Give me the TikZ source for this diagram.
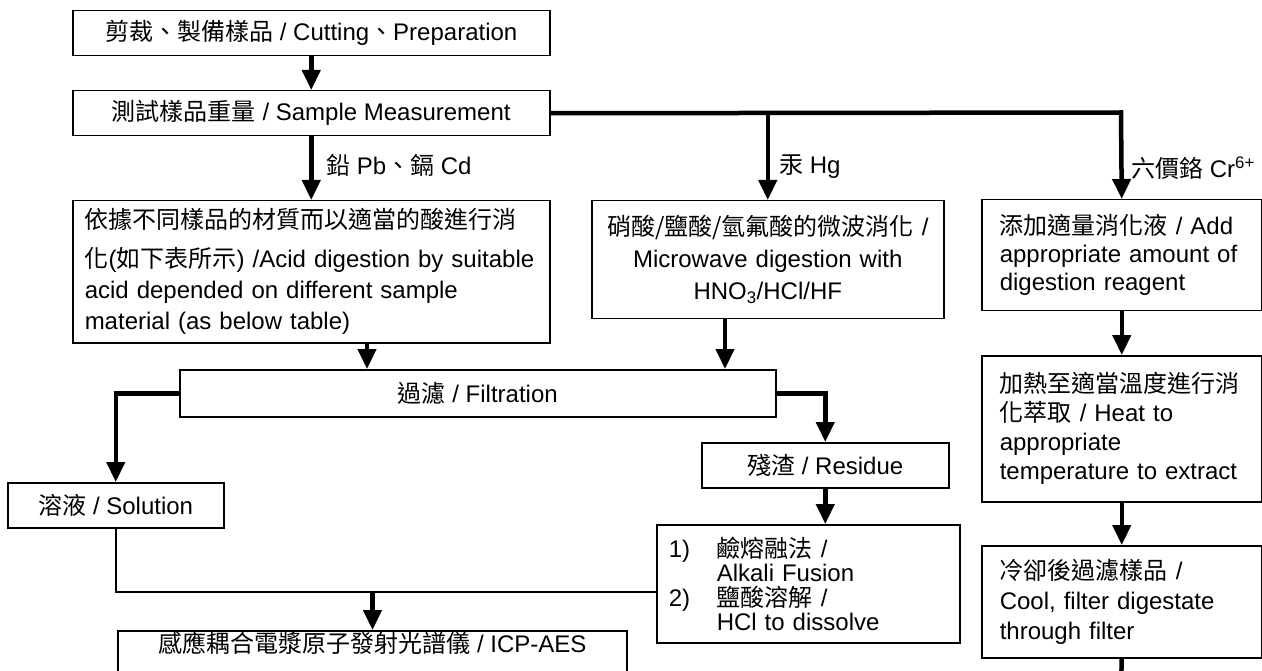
\documentclass[tikz,border=0pt]{standalone}
\usepackage{fontspec}
\setmainfont{Liberation Sans}
\newfontfamily\cjk{Noto Sans CJK TC}
\usetikzlibrary{arrows.meta}
\newcommand{\zh}[1]{{\cjk #1}}
\begin{document}
\begin{tikzpicture}[x=1pt,y=-1pt,
  box/.style={draw, line width=1.5pt, anchor=north west, inner ysep=0pt, font=\fontsize{24}{28}\selectfont},
  lbl/.style={anchor=west, inner sep=0pt, font=\fontsize{24}{28}\selectfont},
  arr/.style={line width=4.5pt, -{Triangle[length=20pt,width=18pt]}},
  conn/.style={line width=2pt},
]
\clip (0,0) rectangle (1262,671);
\fill[white] (0,0) rectangle (1262,671);

% boxes
\node[box, minimum width=477pt, minimum height=45pt] (cut) at (72,10) {\zh{剪裁、製備樣品} / Cutting\zh{、}Preparation};
\node[box, minimum width=477pt, minimum height=45pt] (meas) at (72,90) {\zh{測試樣品重量} / Sample Measurement};
\node[box, minimum width=477pt, minimum height=142pt, text width=453pt, inner xsep=12pt, align=left, font=\fontsize{24}{31}\selectfont] (pb) at (72,200)
  {\zh{依據不同樣品的材質而以適當的酸進行消}\\[8pt] \zh{化}(\zh{如下表所示}) /Acid digestion by suitable\\ acid depended on different sample\\ material (as below table)};
\node[box, minimum width=352pt, minimum height=118pt, text width=336pt, inner xsep=8pt, align=center, font=\fontsize{24}{32}\selectfont] (hg) at (591,200)
  {\zh{硝酸/鹽酸/氫氟酸的微波消化} /\\ Microwave digestion with\\ HNO\textsubscript{3}/HCl/HF};
\node[box, minimum width=280pt, minimum height=111pt, text width=244pt, inner xsep=18pt, align=left, font=\fontsize{24}{28}\selectfont] (cr1) at (981,199)
  {\zh{添加適量消化液} / Add\\ appropriate amount of\\ digestion reagent};
\node[box, minimum width=280pt, minimum height=146pt, text width=244pt, inner xsep=18pt, align=left, font=\fontsize{24}{29}\selectfont] (cr2) at (981,355)
  {\zh{加熱至適當溫度進行消}\\ \zh{化萃取} / Heat to\\ appropriate\\ temperature to extract};
\node[box, minimum width=280pt, minimum height=112pt, text width=244pt, inner xsep=18pt, align=left, font=\fontsize{24}{30}\selectfont] (cr3) at (981,545)
  {\zh{冷卻後過濾樣品} /\\ Cool, filter digestate\\ through filter};
\node[box, minimum width=596pt, minimum height=47pt] (filt) at (179,369) {\zh{過濾} / Filtration};
\node[box, minimum width=216pt, minimum height=45pt] (sol) at (7,482) {\zh{溶液} / Solution};
\node[box, minimum width=247pt, minimum height=45pt] (res) at (701,442) {\zh{殘渣} / Residue};
\node[box, minimum width=303pt, minimum height=118pt, text width=279pt, inner xsep=12pt, align=left, font=\fontsize{24}{24.5}\selectfont] (fus) at (656,524)
  {\makebox[48pt][l]{1)}\zh{鹼熔融法} /\\ \hspace*{48pt}Alkali Fusion\\ \makebox[48pt][l]{2)}\zh{鹽酸溶解} /\\ \hspace*{48pt}HCl to dissolve};
\node[draw, line width=1.5pt, anchor=north, minimum width=509pt, inner ysep=0pt, text height=22pt, text depth=50pt, font=\fontsize{24}{28}\selectfont] (icp) at (372.5,630)
  {\zh{感應耦合電漿原子發射光譜儀} / ICP-AES};

% labels
\node[lbl] (lpb) at (326,165) {\zh{鉛} Pb\zh{、鎘} Cd};
\node[lbl] (lhg) at (779,167) {\zh{汞} Hg};
\node[lbl] (lcr) at (1131,168) {\zh{六價鉻} Cr\textsuperscript{6+}};

% coordinates
\coordinate (jcr) at (1121,112.5);
\coordinate (jhg) at (768,112.5);
\coordinate (pbx) at (367,0);
\coordinate (hgx) at (725,0);
\coordinate (jr) at (656,592);
\coordinate (crend) at (1121,690);

% connectors
\draw[arr] (cut.south) -- (meas.north);
\draw[arr] (meas.east) -- (jcr) -- (cr1.north);
\draw[arr] (hg.north |- jhg) -- (hg.north);
\draw[arr] (meas.south) -- (pb.north);
\draw[arr] (pb.south -| pbx) -- (filt.north -| pbx);
\draw[arr] (hg.south -| hgx) -- (filt.north -| hgx);
\draw[arr] (filt.west) -- (sol.north |- filt.west) -- (sol.north);
\draw[arr] (filt.east) -- (res.north |- filt.east) -- (res.north);
\draw[arr] (res.south) -- (res.south |- fus.north);
\draw[conn] (sol.south) -- (sol.south |- jr) -- (fus.west |- jr);
\draw[arr] (icp.north |- jr) -- (icp.north);
\draw[arr] (cr1.south) -- (cr2.north);
\draw[arr] (cr2.south) -- (cr3.north);
\draw[line width=4.5pt] (cr3.south) -- (crend);
\end{tikzpicture}
\end{document}
